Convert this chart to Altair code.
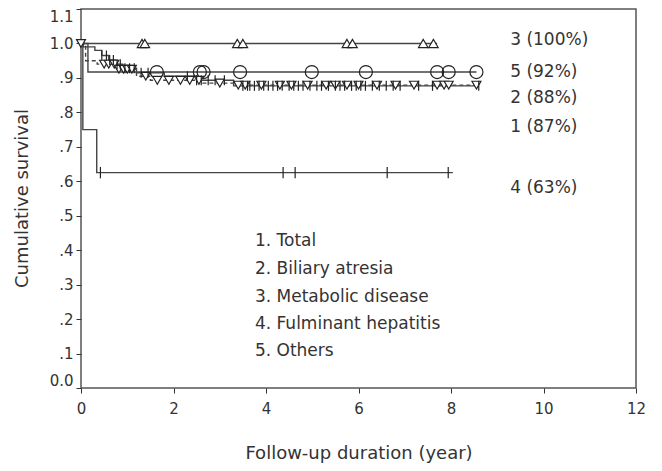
import altair as alt
import pandas as pd

# ---- step curves (time in years, cumulative survival) ----
total_t = [0, 0.05, 0.3, 0.45, 0.6, 0.75, 0.9, 1.2, 1.8, 2.5, 3.3, 8.6]
total_s = [1.0, 0.99, 0.98, 0.965, 0.952, 0.94, 0.928, 0.915, 0.905, 0.893, 0.877, 0.877]

biliary_t = [0, 0.1, 0.35, 0.8, 1.2, 1.5, 2.6, 3.3, 8.6]
biliary_s = [1.0, 0.95, 0.94, 0.925, 0.905, 0.893, 0.885, 0.879, 0.879]

metabolic_t = [0, 7.7]
metabolic_s = [1.0, 1.0]

fulminant_t = [0, 0.04, 0.34, 8.04]
fulminant_s = [1.0, 0.75, 0.625, 0.625]

others_t = [0, 0.15, 8.55]
others_s = [1.0, 0.917, 0.917]

# ---- censored observations (years) ----
total_cens = [0.45, 0.55, 0.62, 0.7, 0.78, 0.85, 0.95, 1.05, 1.15, 1.3, 1.45, 2.3, 2.5,
              2.6, 2.75, 2.9, 3.1, 3.5, 3.6, 3.65, 3.75, 3.85, 3.95, 4.05, 4.15, 4.25,
              4.35, 4.5, 4.6, 4.7, 4.8, 4.95, 5.1, 5.2, 5.35, 5.5, 5.6, 5.7, 5.85, 5.95,
              6.05, 6.15, 6.3, 6.45, 6.6, 6.75, 6.9, 7.3, 7.6, 8.6]
biliary_cens = [0.0, 0.5, 0.6, 0.72, 0.82, 0.92, 1.0, 1.1, 1.4, 1.65, 1.9, 2.15, 2.35,
                2.55, 3.0, 3.4, 3.55, 3.9, 4.3, 4.55, 4.9, 5.3, 5.5, 5.75, 6.0, 6.4,
                6.8, 7.2, 7.7, 7.85, 7.95, 8.55]
metabolic_cens = [1.32, 1.38, 3.38, 3.5, 5.75, 5.87, 7.4, 7.62]
fulminant_cens = [0.42, 4.37, 4.63, 6.62, 7.94]
others_cens = [1.64, 2.57, 2.65, 3.44, 4.99, 6.16, 7.7, 7.95, 8.55]

# ---- end labels ----
end_labels = ["3 (100%)", "5 (92%)", "2 (88%)", "1 (87%)", "4 (63%)"]
end_label_y = [1.01, 0.917, 0.842, 0.758, 0.581]
end_label_x = 9.28

legend_lines = ["1. Total", "2. Biliary atresia", "3. Metabolic disease",
                "4. Fulminant hepatitis", "5. Others"]
legend_y = [0.427, 0.346, 0.264, 0.186, 0.106]
legend_x = 3.76

y_ticks = [0.0, 0.1, 0.2, 0.3, 0.4, 0.5, 0.6, 0.7, 0.8, 0.9, 1.0, 1.1]
x_ticks = [0, 2, 4, 6, 8, 10, 12]

FONT = "DejaVu Sans"
INK = "#333333"


def surv_at(ts, ss, x):
    v = ss[0]
    for ti, si in zip(ts, ss):
        if ti <= x:
            v = si
    return v


def curve_df(ts, ss):
    return pd.DataFrame({"t": ts, "s": ss})


def cens_df(ts, ss, cens):
    return pd.DataFrame({"t": cens, "s": [surv_at(ts, ss, c) for c in cens]})


xsc = alt.Scale(domain=[0, 12], nice=False, zero=False)
ysc = alt.Scale(domain=[0, 1.1], nice=False, zero=False)

x_axis = alt.Axis(values=x_ticks, grid=False, domain=False, tickSize=5, tickColor=INK,
                  labelFont=FONT, labelFontSize=15, labelColor=INK, labelPadding=8,
                  labelFlush=False,
                  title="Follow-up duration (year)", titleFont=FONT, titleFontSize=18,
                  titleFontWeight="normal", titleColor=INK, titleY=65,
                  titleBaseline="middle")
y_axis = alt.Axis(values=y_ticks, grid=False, domain=False, tickSize=5, tickColor=INK,
                  labelFont=FONT, labelFontSize=15, labelColor=INK, labelPadding=3,
                  labelFlush=True,
                  labelExpr="datum.value == 0 ? '0.0' : (datum.value >= 1 ? format(datum.value, '.1f') : replace(format(datum.value, '.1f'), '0.', '.'))",
                  title="Cumulative survival", titleFont=FONT, titleFontSize=18,
                  titleFontWeight="normal", titleColor=INK, titleX=-59, titleY=189,
                  titleAlign="center", titleBaseline="middle", titleAngle=-90)


def enc(chart):
    return chart.encode(x=alt.X("t:Q", scale=xsc, axis=x_axis),
                        y=alt.Y("s:Q", scale=ysc, axis=y_axis))


def line(ts, ss, dash=None):
    kw = dict(interpolate="step-after", color="#444444", strokeWidth=1.4)
    if dash:
        kw["strokeDash"] = dash
    return enc(alt.Chart(curve_df(ts, ss)).mark_line(**kw))


TICK_PATH = "M0,-1L0,1"


def pts(ts, ss, cens, shape, size, fill=None):
    kw = dict(shape=shape, size=size, stroke="#222222", strokeWidth=1.2, opacity=1)
    if fill:
        kw["filled"] = True
        kw["fill"] = fill
    else:
        kw["filled"] = False
    return enc(alt.Chart(cens_df(ts, ss, cens)).mark_point(**kw))


layers = [
    line(metabolic_t, metabolic_s),
    line(others_t, others_s),
    line(fulminant_t, fulminant_s),
    line(biliary_t, biliary_s, dash=[4, 3]),
    line(total_t, total_s),
    pts(metabolic_t, metabolic_s, metabolic_cens, "triangle-up", 90, fill="white"),
    pts(others_t, others_s, others_cens, "circle", 170),
    pts(fulminant_t, fulminant_s, fulminant_cens, TICK_PATH, 130),
    pts(biliary_t, biliary_s, biliary_cens, "triangle-down", 80, fill="white"),
    pts(total_t, total_s, total_cens, TICK_PATH, 100),
]

end_df = pd.DataFrame({"t": [end_label_x] * len(end_labels), "s": end_label_y,
                       "label": end_labels})
leg_df = pd.DataFrame({"t": [legend_x] * len(legend_lines), "s": legend_y,
                       "label": legend_lines})

for df in (end_df, leg_df):
    layers.append(enc(alt.Chart(df).mark_text(align="left", baseline="middle",
                                              font=FONT, fontSize=17, color=INK))
                  .encode(text="label:N"))

chart = alt.layer(*layers).properties(
    width=555, height=379,
    autosize="none",
    padding={"left": 73, "top": 1, "right": 10, "bottom": 76},
    background="white",
).configure_view(stroke="#555555", strokeWidth=1.5)

chart.save("out.html", embed_options={"renderer": "svg", "actions": False})
